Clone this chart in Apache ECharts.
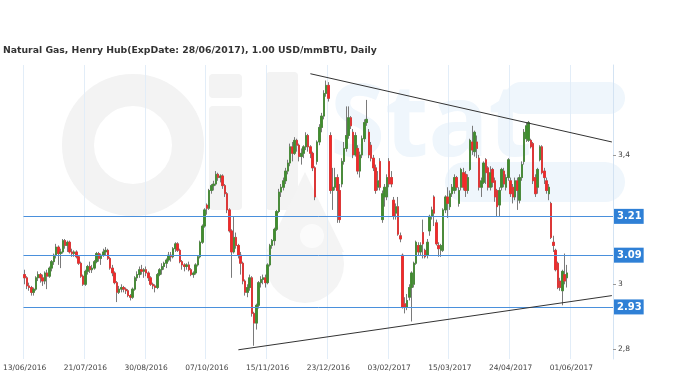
<!DOCTYPE html>
<html>
<head>
<meta charset="utf-8">
<script src="https://cdn.jsdelivr.net/npm/echarts@6/dist/echarts.min.js"></script>
<style>
html,body{margin:0;padding:0;background:#fff;}
#main{width:680px;height:381px;}
</style>
</head>
<body>
<div id="main"></div>
<script>
const titleText = 'Natural Gas, Henry Hub(ExpDate: 28/06/2017), 1.00 USD/mmBTU, Daily';
const tickLabels = ['13/06/2016','21/07/2016','30/08/2016','07/10/2016','15/11/2016','23/12/2016','03/02/2017','15/03/2017','24/04/2017','01/06/2017'];
const tickEvery = 27;
const categoryCount = 262;
const yTickValues = [2.8, 3.0, 3.4];
const levels = [3.21, 3.09, 2.93];
const upperTrend = [[127, 3.651], [261, 3.44]];
const lowerTrend = [[95, 2.7975], [261, 2.965]];
// [open, close, low, high]
const ohlc = [
[3.03,3.02,3.00,3.045],[3.02,2.995,2.985,3.025],[2.995,2.99,2.98,3.005],[2.99,2.975,2.965,2.995],[2.975,2.985,2.965,2.99],
[2.985,3.02,2.98,3.025],[3.02,3.03,3.01,3.04],[3.03,3.02,3.005,3.035],[3.02,3.01,2.995,3.03],[3.01,3.035,3.0,3.04],
[3.035,3.025,2.985,3.045],[3.025,3.05,3.02,3.055],[3.05,3.07,3.04,3.075],[3.07,3.09,3.06,3.095],[3.09,3.115,3.08,3.125],
[3.115,3.095,3.06,3.12],[3.095,3.1,3.05,3.11],[3.1,3.135,3.095,3.14],[3.135,3.12,3.11,3.14],[3.12,3.13,3.1,3.135],
[3.13,3.1,3.095,3.135],[3.1,3.095,3.085,3.11],[3.095,3.1,3.085,3.105],[3.1,3.085,3.08,3.105],[3.085,3.065,3.06,3.09],
[3.065,3.025,3.02,3.07],[3.025,3.0,2.995,3.03],[3.0,3.04,2.995,3.045],[3.04,3.055,3.03,3.06],[3.055,3.045,3.035,3.07],
[3.045,3.05,3.035,3.06],[3.05,3.07,3.045,3.075],[3.07,3.095,3.065,3.1],[3.095,3.08,3.07,3.1],[3.08,3.09,3.06,3.095],
[3.09,3.1,3.085,3.11],[3.1,3.105,3.09,3.115],[3.105,3.08,3.075,3.11],[3.08,3.05,3.045,3.085],[3.05,3.035,3.025,3.06],
[3.035,3.005,3.0,3.04],[3.005,2.975,2.945,3.01],[2.975,2.985,2.97,2.995],[2.985,2.99,2.975,3.0],[2.99,2.985,2.975,2.995],
[2.985,2.98,2.97,2.99],[2.98,2.965,2.96,2.985],[2.965,2.96,2.95,2.97],[2.96,2.985,2.955,2.99],[2.985,3.02,2.98,3.025],
[3.02,3.03,3.01,3.04],[3.03,3.045,3.02,3.055],[3.045,3.04,3.03,3.06],[3.04,3.045,3.02,3.05],[3.045,3.035,3.025,3.055],
[3.035,3.02,3.01,3.04],[3.02,3.0,2.995,3.025],[3.0,2.995,2.985,3.005],[2.995,2.99,2.975,3.0],[2.99,3.03,2.985,3.035],
[3.03,3.045,3.025,3.05],[3.045,3.055,3.03,3.065],[3.055,3.065,3.045,3.07],[3.065,3.075,3.05,3.08],[3.075,3.09,3.07,3.1],
[3.09,3.085,3.07,3.1],[3.085,3.11,3.08,3.115],[3.11,3.125,3.1,3.13],[3.125,3.105,3.1,3.13],[3.105,3.07,3.065,3.11],
[3.07,3.06,3.045,3.075],[3.06,3.055,3.04,3.065],[3.055,3.06,3.045,3.065],[3.06,3.045,3.04,3.07],[3.045,3.03,3.025,3.05],
[3.03,3.035,3.02,3.04],[3.035,3.06,3.03,3.065],[3.06,3.085,3.055,3.09],[3.085,3.13,3.08,3.135],[3.13,3.18,3.125,3.185],
[3.18,3.23,3.175,3.235],[3.245,3.235,3.215,3.25],[3.235,3.29,3.23,3.295],[3.29,3.305,3.28,3.31],[3.305,3.31,3.29,3.32],
[3.31,3.34,3.305,3.35],[3.34,3.33,3.32,3.345],[3.33,3.335,3.315,3.34],[3.335,3.305,3.295,3.34],[3.305,3.28,3.27,3.31],
[3.28,3.23,3.22,3.285],[3.23,3.165,3.16,3.235],[3.165,3.10,3.02,3.17],[3.10,3.145,3.095,3.21],[3.145,3.12,3.11,3.16],
[3.12,3.09,3.08,3.125],[3.09,3.065,3.03,3.1],[3.065,3.01,3.0,3.07],[3.01,2.975,2.965,3.015],[2.975,2.99,2.96,3.0],
[2.99,3.02,2.98,3.03],[3.02,2.91,2.9,3.025],[2.91,2.88,2.81,2.915],[2.88,2.935,2.86,2.94],[2.935,3.005,2.925,3.01],
[3.005,3.015,2.99,3.025],[3.015,3.02,3.0,3.03],[3.02,3.005,2.99,3.03],[3.005,3.06,3.0,3.065],[3.06,3.12,3.055,3.125],
[3.12,3.135,3.11,3.14],[3.135,3.17,3.12,3.175],[3.17,3.225,3.165,3.23],[3.225,3.285,3.22,3.295],[3.285,3.30,3.27,3.31],
[3.30,3.32,3.29,3.33],[3.32,3.35,3.31,3.36],[3.35,3.375,3.34,3.385],[3.375,3.425,3.365,3.435],[3.425,3.405,3.38,3.44],
[3.405,3.445,3.40,3.455],[3.445,3.43,3.41,3.45],[3.43,3.395,3.38,3.435],[3.395,3.405,3.37,3.42],[3.405,3.425,3.39,3.43],
[3.425,3.46,3.415,3.47],[3.46,3.425,3.41,3.465],[3.425,3.405,3.39,3.43],[3.405,3.36,3.35,3.41],[3.36,3.27,3.26,3.365],
[3.38,3.44,3.37,3.445],[3.44,3.485,3.43,3.495],[3.485,3.52,3.47,3.53],[3.52,3.59,3.51,3.60],[3.59,3.615,3.58,3.63],
[3.615,3.575,3.565,3.625],[3.46,3.29,3.28,3.47],[3.29,3.30,3.23,3.36],[3.30,3.33,3.29,3.36],[3.33,3.29,3.19,3.34],
[3.29,3.20,3.19,3.31],[3.31,3.38,3.30,3.39],[3.38,3.42,3.37,3.44],[3.42,3.46,3.41,3.55],[3.46,3.515,3.45,3.55],
[3.515,3.49,3.48,3.52],[3.47,3.40,3.39,3.48],[3.40,3.46,3.395,3.47],[3.42,3.35,3.34,3.43],[3.35,3.40,3.33,3.41],
[3.40,3.45,3.39,3.46],[3.45,3.50,3.44,3.51],[3.50,3.51,3.49,3.57],[3.47,3.40,3.39,3.48],[3.43,3.39,3.38,3.44],
[3.39,3.36,3.35,3.40],[3.36,3.29,3.28,3.37],[3.30,3.32,3.29,3.35],[3.38,3.30,3.29,3.39],[3.20,3.28,3.19,3.29],
[3.27,3.30,3.24,3.31],[3.27,3.33,3.26,3.34],[3.38,3.31,3.30,3.39],[3.33,3.31,3.30,3.35],[3.26,3.21,3.20,3.27],
[3.22,3.24,3.20,3.25],[3.24,3.155,3.15,3.27],[3.15,3.14,3.13,3.16],[3.09,2.93,2.925,3.095],[2.94,2.93,2.91,2.96],
[2.93,2.95,2.92,2.97],[2.96,2.99,2.95,3.0],[2.99,3.035,2.885,3.04],[3.0,3.065,2.99,3.07],[3.065,3.13,3.06,3.135],
[3.12,3.10,3.09,3.13],[3.10,3.12,3.09,3.13],[3.16,3.125,3.08,3.2],[3.105,3.085,3.08,3.11],[3.09,3.13,3.08,3.14],
[3.165,3.21,3.15,3.215],[3.21,3.23,3.20,3.24],[3.27,3.22,3.18,3.275],[3.19,3.125,3.12,3.2],[3.12,3.11,3.085,3.13],
[3.105,3.12,3.085,3.125],[3.105,3.23,3.10,3.235],[3.23,3.27,3.22,3.275],[3.27,3.25,3.205,3.30],[3.24,3.28,3.23,3.29],
[3.28,3.30,3.27,3.31],[3.29,3.33,3.28,3.34],[3.33,3.30,3.29,3.335],[3.25,3.29,3.24,3.30],[3.30,3.355,3.29,3.36],
[3.345,3.30,3.29,3.36],[3.34,3.29,3.27,3.35],[3.29,3.33,3.28,3.34],[3.355,3.445,3.35,3.45],[3.44,3.415,3.40,3.49],
[3.41,3.47,3.395,3.475],[3.44,3.42,3.39,3.46],[3.39,3.30,3.29,3.40],[3.30,3.32,3.27,3.33],[3.315,3.375,3.31,3.38],
[3.385,3.345,3.31,3.39],[3.36,3.30,3.29,3.365],[3.30,3.345,3.29,3.365],[3.355,3.315,3.30,3.36],[3.32,3.27,3.255,3.33],
[3.29,3.24,3.21,3.295],[3.245,3.29,3.21,3.30],[3.30,3.355,3.29,3.36],[3.35,3.31,3.30,3.36],[3.30,3.33,3.29,3.34],
[3.33,3.385,3.32,3.39],[3.32,3.28,3.27,3.33],[3.30,3.27,3.25,3.31],[3.27,3.32,3.26,3.33],[3.32,3.29,3.23,3.33],
[3.26,3.33,3.25,3.34],[3.33,3.37,3.32,3.38],[3.38,3.47,3.37,3.48],[3.45,3.49,3.44,3.50],[3.445,3.50,3.44,3.505],
[3.445,3.425,3.42,3.45],[3.435,3.32,3.31,3.44],[3.33,3.28,3.27,3.34],[3.30,3.355,3.28,3.36],[3.385,3.425,3.38,3.43],
[3.425,3.345,3.34,3.43],[3.35,3.33,3.31,3.36],[3.32,3.29,3.28,3.33],[3.28,3.30,3.26,3.31],[3.25,3.145,3.14,3.255],
[3.13,3.12,3.10,3.15],[3.105,3.045,3.04,3.11],[3.065,2.99,2.985,3.07],[3.01,2.99,2.98,3.02],[2.98,3.04,2.935,3.045],
[3.03,3.01,3.0,3.095],[3.02,3.035,2.99,3.06]
];

const categories = [];
for (let i = 0; i < categoryCount; i++) {
  categories.push(i % tickEvery === 0 && tickLabels[i / tickEvery] ? tickLabels[i / tickEvery] : String(i));
}
const showTick = (idx) => idx % tickEvery === 0 && idx / tickEvery < tickLabels.length;
const bodies = ohlc.map(d => [d[0], d[1], Math.min(d[0], d[1]), Math.max(d[0], d[1])]);

const chart = echarts.init(document.getElementById('main'), null, {renderer: 'canvas'});
const wmGray = '#f3f3f3';
const wmBlue = '#eff6fc';
chart.setOption({
  animation: false,
  backgroundColor: '#fff',
  title: {
    text: titleText, left: 3, top: 46, padding: 0,
    textStyle: {fontFamily: 'DejaVu Sans', fontSize: 9.3, fontWeight: 'bold', color: '#333'}
  },
  graphic: [
    {type: 'circle', z: -100, shape: {cx: 133, cy: 145, r: 55}, style: {fill: 'none', stroke: wmGray, lineWidth: 32}},
    {type: 'rect', z: -100, shape: {x: 209, y: 74, width: 33, height: 24, r: 4}, style: {fill: wmGray}},
    {type: 'rect', z: -100, shape: {x: 209, y: 106, width: 33, height: 104, r: 4}, style: {fill: wmGray}},
    {type: 'rect', z: -100, shape: {x: 266, y: 72, width: 32, height: 138, r: 4}, style: {fill: wmGray}},
    {type: 'polygon', z: -100, shape: {points: [[305, 172], [266, 252], [344, 252]]}, style: {fill: '#f4f4f4'}},
    {type: 'circle', z: -100, shape: {cx: 305, cy: 264, r: 39}, style: {fill: '#f4f4f4'}},
    {type: 'circle', z: -100, shape: {cx: 312, cy: 236, r: 12}, style: {fill: '#fbfbfb'}},
    {type: 'text', z: -100, x: 330, y: 78, style: {text: 'Stat', font: 'bold 100px "Noto Sans"', fill: wmBlue}},
    {type: 'rect', z: -100, shape: {x: 505, y: 82, width: 120, height: 32, r: 16}, style: {fill: wmBlue}},
    {type: 'rect', z: -100, shape: {x: 445, y: 162, width: 180, height: 40, r: 20}, style: {fill: wmBlue}}
  ],
  grid: {left: 22, right: 67, top: 65, bottom: 22, containLabel: false},
  xAxis: {
    type: 'category',
    data: categories,
    boundaryGap: true,
    axisLine: {show: false},
    axisTick: {show: false},
    axisLabel: {
      interval: (idx) => showTick(idx),
      margin: 5,
      fontFamily: 'DejaVu Sans', fontSize: 7.5, color: '#444'
    },
    splitLine: {show: true, interval: (idx) => showTick(idx), lineStyle: {color: '#e2edf8', width: 1}}
  },
  yAxis: {
    type: 'value',
    position: 'right',
    min: 2.769, max: 3.678,
    axisLine: {show: true, lineStyle: {color: '#d3e3f3'}},
    axisTick: {show: true, length: 3, customValues: yTickValues, lineStyle: {color: '#999'}},
    splitLine: {show: false},
    axisLabel: {
      customValues: yTickValues,
      margin: 5,
      fontFamily: 'DejaVu Sans', fontSize: 7.5, color: '#444',
      formatter: (v) => String(Math.round(v * 10) / 10).replace('.', ',')
    }
  },
  series: [
    {
      type: 'candlestick',
      name: 'wick',
      data: ohlc,
      barWidth: 2,
      silent: true,
      itemStyle: {color: '#8a8a8a', color0: '#8a8a8a', borderColor: '#7a7a7a', borderColor0: '#7a7a7a', borderWidth: 1}
    },
    {
      type: 'candlestick',
      name: 'body',
      data: bodies,
      barWidth: 2,
      silent: true,
      itemStyle: {color: '#3f8f2d', color0: '#f52828', borderColor: '#3f8f2d', borderColor0: '#f52828', borderWidth: 0.6},
      markLine: {
        silent: true,
        symbol: ['none', 'none'],
        animation: false,
        data: [
          ...levels.map(v => ({
            yAxis: v,
            lineStyle: {color: '#4a90dc', width: 1, type: 'solid'},
            label: {
              show: true, position: 'end', distance: 1,
              formatter: v.toFixed(2),
              backgroundColor: '#2f80d6', color: '#fff',
              fontFamily: 'DejaVu Sans', fontSize: 10, fontWeight: 'bold',
              padding: [3, 2, 2, 3]
            }
          })),
          [
            {coord: upperTrend[0], lineStyle: {color: '#333', width: 1, type: 'solid'}, label: {show: false}},
            {coord: upperTrend[1]}
          ],
          [
            {coord: lowerTrend[0], lineStyle: {color: '#333', width: 1, type: 'solid'}, label: {show: false}},
            {coord: lowerTrend[1]}
          ]
        ]
      }
    }
  ]
});
</script>
</body>
</html>
